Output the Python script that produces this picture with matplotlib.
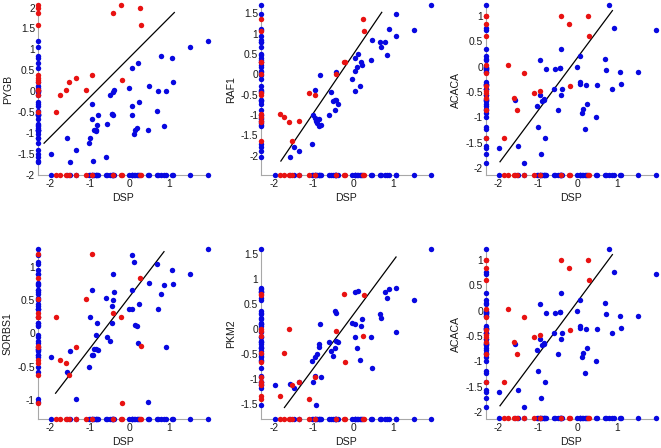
import numpy as np
import matplotlib
matplotlib.use("Agg")
from matplotlib import pyplot as plt
from matplotlib.ticker import MultipleLocator, FormatStrFormatter

plt.rcParams['font.family'] = ['Liberation Sans', 'DejaVu Sans']
plt.rcParams['axes.unicode_minus'] = False

# DSP values shared by all panels
dsp_red = [-1.85, -1.75, -1.62, -1.54, -1.36, -1.10, -0.96, -0.42, -0.23, -0.20, 0.25, 0.28]
dsp_blue = [-1.98, -1.58, -1.50, -1.36,
            -1.03, -1.00, -0.96, -0.96, -0.94, -0.90, -0.86, -0.85, -0.83, -0.81,
            -0.60, -0.57, -0.50, -0.46, -0.45, -0.43, -0.42, -0.39,
            -0.02, 0.05, 0.05, 0.05, 0.10, 0.12, 0.17, 0.21, 0.22,
            0.46, 0.48, 0.68, 0.71, 0.79, 0.85, 0.90, 1.07, 1.08, 1.52, 1.96]

nan = np.nan
pygb_red = [-0.50, -0.10, 0.03, 0.22, 0.31, 0.03, 0.38, 1.87, 2.06, 0.26, 2.00, 1.59]
pygb_blue = [-1.50, -1.13, -1.70, -1.41,
             -1.24, -1.12, -0.32, -0.68, -1.68, -0.94, -0.94, -0.96, -0.81, -0.57,
             -1.57, -0.78, -0.09, -0.54, -0.56, -0.58, -0.02, 0.02,
             0.06, -0.37, -0.58, 0.54, -1.02, -0.93, -0.88, 0.67, -0.27,
             -0.94, 0.11, -0.49, 0.00, 0.83, -0.85, 0.00, 0.78, 0.22, 1.06, 1.20]

raf1_red = [-0.98, -1.05, -1.16, -1.64, -1.14, -0.45, -0.52, 0.00, 0.31, 0.31, 1.35, 1.07]
raf1_blue = [nan, -2.03, -1.79, -1.89,
             -1.72, -1.01, -0.38, -1.08, -1.15, -1.20, -1.10, -1.28, -0.02, -1.25,
             -0.99, -0.43, -0.66, -0.87, -0.64, -0.62, 0.05, -0.72,
             -0.11, 0.39, -0.41, 0.08, 0.18, 0.49, -0.29, 0.29, 0.22,
             0.34, 0.85, 0.78, 0.66, 0.80, 0.47, 1.12, 1.49, 0.93, 1.08, 1.70]

acaca_red = [-1.41, 0.03, -0.62, -0.86, -0.13, -0.52, -0.48, 1.00, 0.84, -0.39, 1.00, 0.60]
acaca_blue = [-1.59, -0.66, -1.56, -1.90,
              -0.77, -1.18, 0.12, -0.56, -1.71, -0.67, -0.65, -0.63, -1.41, -0.04,
              -0.44, -0.05, -0.85, -0.02, -0.03, 0.35, -0.56, -0.44,
              -0.01, 0.21, -0.31, -0.35, -0.92, -0.84, -1.23, -0.37, -0.73,
              -0.99, -0.37, 0.14, -0.07, 1.21, -0.44, 0.76, -0.10, -0.35, -0.10, 0.71]

sorbs1_red = [0.25, -0.40, -0.45, -0.63, -0.21, 0.52, 1.20, 0.31, 0.24, -1.05, 0.84, -0.19]
sorbs1_blue = [-0.35, -0.58, -0.27, -0.99,
               -0.50, 0.25, -0.32, 0.65, -0.33, -0.24, -0.02, -0.23, 0.16, -0.25,
               0.53, -0.06, -0.12, 0.16, 0.41, 0.90, 0.50, 0.62,
               0.36, 0.66, 0.37, 1.18, 1.07, 0.13, 0.11, -0.14, 0.45,
               -1.03, 0.76, 1.05, 0.37, 0.60, 0.73, -0.21, 0.95, 0.75, 0.89, 1.27]

pkm2_red = [-1.33, -0.47, 0.00, -1.11, -1.05, -1.39, -0.96, -0.03, 0.70, -0.66, -0.13, 0.69]
pkm2_blue = [-1.11, -1.09, -1.18, -1.06,
             -0.63, -1.05, -0.55, -0.93, -1.51, -0.50, -0.35, -0.30, 0.10, -0.95,
             -0.25, -0.43, -0.53, -0.37, 0.37, 0.32, -0.23, -0.25,
             0.12, 0.75, 0.10, -0.15, -0.37, 0.77, -0.61, 0.07, 0.21,
             -0.15, -0.77, 0.30, 0.23, 0.75, 0.63, 0.81, -0.05, 0.82, 0.59, 1.60]

# fitted line ends (x0, x1, y0, y1)
pygb_fit = (-2.16, 1.12, -1.25, 1.88)
raf1_fit = (-1.82, 0.72, -2.13, 1.52)
acaca_fit = (-1.96, 0.87, -1.87, 1.10)
sorbs1_fit = (-1.87, 0.86, -0.90, 1.23)
pkm2_fit = (-1.73, 1.08, -1.57, 1.44)

panels = [
    ('PYGB', pygb_red, pygb_blue, pygb_fit, -2.0),
    ('RAF1', raf1_red, raf1_blue, raf1_fit, -2.46),
    ('ACACA', acaca_red, acaca_blue, acaca_fit, -2.12),
    ('SORBS1', sorbs1_red, sorbs1_blue, sorbs1_fit, -1.28),
    ('PKM2', pkm2_red, pkm2_blue, pkm2_fit, -1.79),
    ('ACACA', acaca_red, acaca_blue, acaca_fit, -2.12),
]

RED = '#e81212'
BLUE = '#0808e0'
GRAY = '#a8a8a8'
rug_x = -2.32
W, H = 661, 448
col_left = [37.7, 261.0, 485.7]
row_top = [5.0, 249.0]
ax_w, ax_h = 170.0, 169.5

fig = plt.figure(figsize=(W / 100, H / 100), dpi=100)

for i, (gene, y_red, y_blue, fit, rug_y) in enumerate(panels):
    r, c = divmod(i, 3)
    ax = fig.add_axes([col_left[c] / W, 1 - (row_top[r] + ax_h) / H, ax_w / W, ax_h / H])
    yb = np.array(y_blue, dtype=float)
    yr = np.array(y_red, dtype=float)
    xb = np.array(dsp_blue)
    xr = np.array(dsp_red)
    ymax = np.nanmax(np.concatenate([yb, yr]))
    xmax = max(xb.max(), xr.max())

    kw = dict(ls='none', marker='o', ms=3.9, mew=0, clip_on=False, zorder=3)
    # rugs along the axes
    ax.plot(xb, np.full(len(xb), rug_y), color=BLUE, **kw)
    ax.plot(np.full(len(yb), rug_x), yb, color=BLUE, **kw)
    ax.plot(xr, np.full(len(xr), rug_y), color=RED, **kw)
    ax.plot(np.full(len(yr), rug_x), yr, color=RED, **kw)
    # scatter
    ax.plot(xb, yb, color=BLUE, **kw)
    ax.plot(xr, yr, color=RED, **kw)
    ax.plot(fit[:2], fit[2:], color='black', lw=0.9, zorder=2)

    ax.set_xlim(rug_x, xmax)
    ax.set_ylim(rug_y, ymax)
    for s in ['top', 'right']:
        ax.spines[s].set_visible(False)
    for s in ['left', 'bottom']:
        ax.spines[s].set_color(GRAY)
        ax.spines[s].set_linewidth(0.8)
        ax.spines[s].set_zorder(1)
    ax.set_xticks([-2, -1, 0, 1])
    ax.yaxis.set_major_locator(MultipleLocator(0.5))
    ax.yaxis.set_major_formatter(FormatStrFormatter('%g'))
    ax.xaxis.set_major_formatter(FormatStrFormatter('%g'))
    ax.tick_params(length=0, labelsize=7.4, colors='#1a1a1a')
    ax.tick_params(axis='x', pad=3.5)
    ax.tick_params(axis='y', pad=2.0)
    ax.set_facecolor('none')
    ax.set_xlabel('DSP', fontsize=7.6, color='#1a1a1a')
    ax.set_ylabel(gene, fontsize=7.6, color='#1a1a1a')
    ax.xaxis.set_label_coords(0.5, -18 / ax_h)
    ax.yaxis.set_label_coords(-25 / ax_w, 0.5)

plt.savefig('out.png', dpi=100)
